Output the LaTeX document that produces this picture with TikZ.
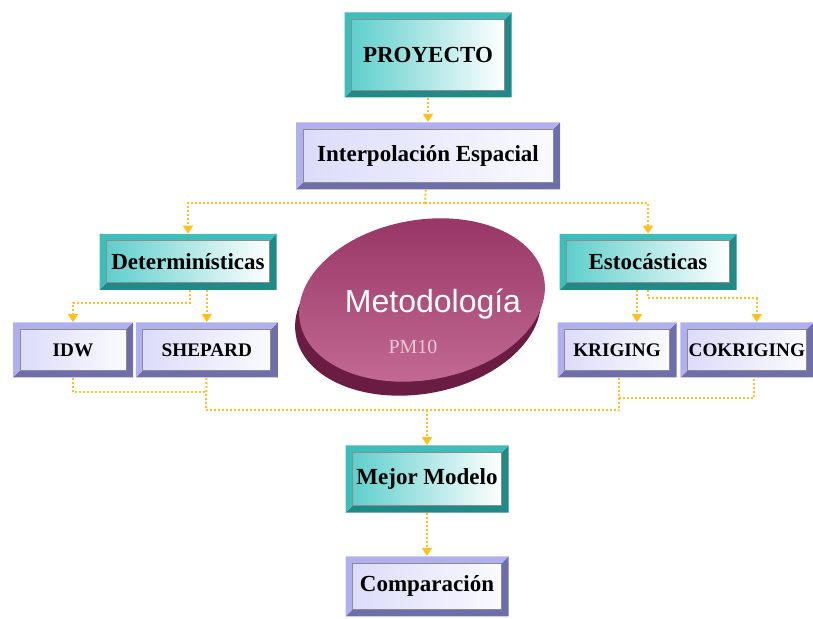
\documentclass[tikz,border=0pt]{standalone}
\usepackage{fontspec}
\setmainfont{Liberation Serif}
\newfontfamily\discfont{Liberation Sans}
\usepackage{xcolor}
\usepackage{tikz}
\usetikzlibrary{arrows.meta,positioning,shapes.geometric,calc}

\definecolor{tealedge}{HTML}{3FBDBA}
\definecolor{tealdark}{HTML}{1F8A88}
\definecolor{tealface}{HTML}{5FCFCC}
\definecolor{lavedge}{HTML}{B0B0EE}
\definecolor{lavdark}{HTML}{6E6EAA}
\definecolor{lavface}{HTML}{DCDCFA}
\definecolor{linkgold}{HTML}{FFC020}
\definecolor{discface}{HTML}{963464}
\definecolor{disclight}{HTML}{C46C95}
\definecolor{discside}{HTML}{6B1C42}
\definecolor{pmpink}{HTML}{EBC6D6}

\def\bw{3.5pt}
% bevelled frame: light edge, dark edge, face left, face right
\newcommand{\bevelframe}[4]{%
  \coordinate (bsw) at (path picture bounding box.south west);
  \coordinate (bne) at (path picture bounding box.north east);
  \coordinate (bnw) at (path picture bounding box.north west);
  \coordinate (bse) at (path picture bounding box.south east);
  \fill[#2] (bsw) -- (bse) -- (bne) -- ([shift={(-\bw,-\bw)}]bne)
    -- ([shift={(-\bw,\bw)}]bse) -- ([shift={(\bw,\bw)}]bsw) -- cycle;
  \fill[#1] (bsw) -- (bnw) -- (bne) -- ([shift={(-\bw,-\bw)}]bne)
    -- ([shift={(\bw,-\bw)}]bnw) -- ([shift={(\bw,\bw)}]bsw) -- cycle;
  \shade[left color=#3, right color=#4] ([shift={(\bw,\bw)}]bsw) rectangle ([shift={(-\bw,-\bw)}]bne);
  \draw[black!45, line width=0.5pt] ([shift={(\bw,\bw)}]bsw) rectangle ([shift={(-\bw,-\bw)}]bne);
}

\begin{document}
\begin{tikzpicture}[
  x=0.5pt, y=-0.5pt, >={Triangle[width=5pt,length=4pt]},
  tealbox/.style={rectangle, inner sep=0pt, font=\bfseries\fontsize{11.5}{13}\selectfont,
    path picture={\bevelframe{tealedge}{tealdark}{tealface}{white}}},
  lavbox/.style={rectangle, inner sep=0pt, font=\bfseries\fontsize{11.5}{13}\selectfont,
    path picture={\bevelframe{lavedge}{lavdark}{lavface}{white!85!lavface}}},
  smallbox/.style={lavbox, minimum height=27.5pt, font=\bfseries\fontsize{9.6}{11}\selectfont},
  discbase/.style={ellipse, inner sep=0pt, minimum width=124pt, minimum height=80pt, rotate=10},
  link/.style={draw=linkgold, line width=1pt, dash pattern=on 1pt off 1pt},
  arrow/.style={link, ->}
]
\useasboundingbox (0,0) rectangle (813,619);

% disc in the middle
\node[discbase, fill=discside] (discside) at (418,314) {};
\node[discbase, top color=discface, bottom color=disclight] (metod) at (422,300) {};
\node[font=\discfont\fontsize{16}{18}\selectfont, text=white] (metodtxt) at (433,304) {Metodología};
\node[font=\fontsize{10}{12}\selectfont, text=pmpink] (pm) at (413,347) {PM10};

% boxes
\node[tealbox, minimum width=83.5pt, minimum height=42.5pt] (proj) at (428,55) {PROYECTO};
\node[lavbox, minimum width=132pt, minimum height=33.5pt, below=12pt of proj] (interp) {Interpolación Espacial};
\node[tealbox, minimum width=88.5pt, minimum height=28pt] (det) at (188,262) {Determinísticas};
\node[tealbox, minimum width=88.5pt, minimum height=28pt] (est) at (648,262) {Estocásticas};
\node[smallbox, minimum width=60pt] (idw) at (73,350) {IDW};
\node[smallbox, minimum width=71pt, right=1pt of idw] (shep) {SHEPARD};
\node[smallbox, minimum width=59.5pt] (krig) at (617,350) {KRIGING};
\node[smallbox, minimum width=66.5pt, right=1.5pt of krig] (cokr) {COKRIGING};
\node[tealbox, minimum width=81.5pt, minimum height=33.5pt] (mejor) at (427,479) {Mejor Modelo};
\node[lavbox, minimum width=81.5pt, minimum height=30pt, below=21.5pt of mejor] (comp) {Comparación};

% bends
\coordinate (split) at (425,203);
\coordinate (lmerge) at (206,392);
\coordinate (lbus) at (206,410);
\coordinate (rmerge) at (619,398);
\coordinate (rbus) at (619,410);

% connectors
\draw[arrow] (proj) -- (interp);
\draw[link] (interp) -- (split);
\draw[arrow] (split) -| (det);
\draw[arrow] (split) -| (est);
\draw[arrow] ([xshift=1pt]det.south) -- ++(0,13) -| (idw);
\draw[arrow] (det.south -| shep.north) -- (shep);
\draw[arrow] ([xshift=10pt]krig.north |- est.south) -- ([xshift=10pt]krig.north);
\draw[arrow] (est.south) -- ++(0,8) -| ([xshift=5pt]cokr.north);
\draw[link] (idw) |- (lmerge);
\draw[link] (shep) -- (lbus);
\draw[link] ([xshift=1pt]krig.south) -- (rbus);
\draw[link] (rmerge) -| ([xshift=3.5pt]cokr.south);
\draw[link] (lbus) -- (rbus);
\draw[arrow] (lbus -| mejor.north) -- (mejor);
\draw[arrow] (mejor) -- (comp);

\end{tikzpicture}
\end{document}
